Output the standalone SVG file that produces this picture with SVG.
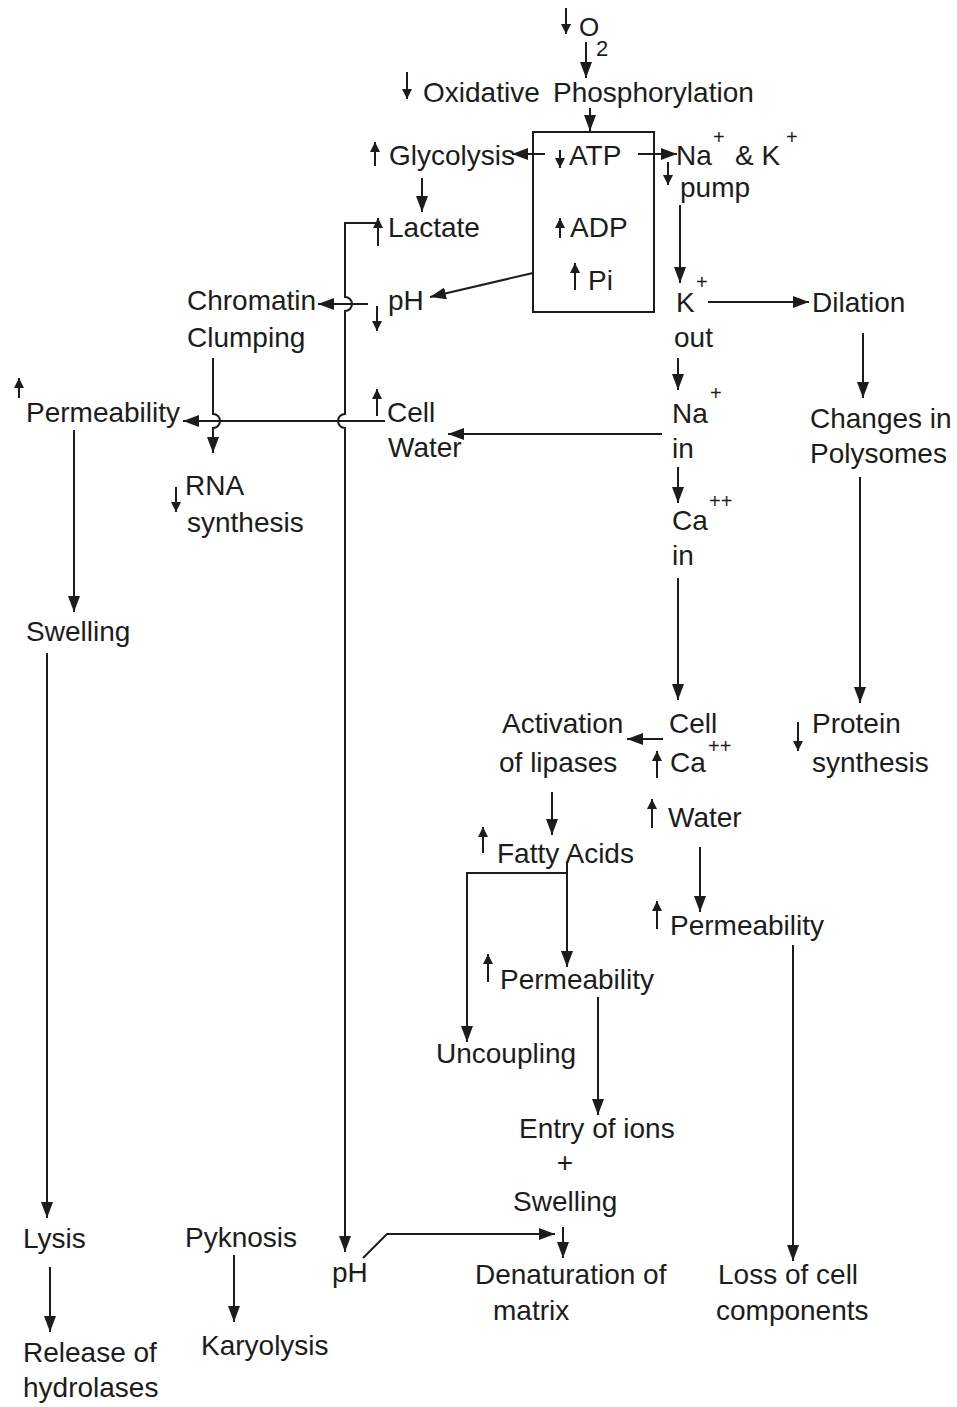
<svg xmlns="http://www.w3.org/2000/svg" width="957" height="1407" viewBox="0 0 957 1407">
<style>
text{font-family:"Liberation Sans","DejaVu Sans",sans-serif;font-size:28px;fill:#1c1c1c}
.sup{font-size:20px}
.c{fill:none;stroke:#1c1c1c;stroke-width:2}
.i{fill:none;stroke:#1c1c1c;stroke-width:2}
</style>
<defs>
<marker id="ah" markerUnits="userSpaceOnUse" markerWidth="16" markerHeight="12" refX="16" refY="6" orient="auto"><path d="M0,0 L16,6 L0,12 z" fill="#1c1c1c"/></marker>
<marker id="sa" markerUnits="userSpaceOnUse" markerWidth="10" markerHeight="10" refX="10" refY="5" orient="auto"><path d="M0,0 L10,5 L0,10 z" fill="#1c1c1c"/></marker>
</defs>
<rect width="957" height="1407" fill="#fff"/>

<g id="connectors">
<line class="c" x1="586" y1="42" x2="586" y2="78" marker-end="url(#ah)"/>
<line class="c" x1="590" y1="108" x2="590" y2="131" marker-end="url(#ah)"/>
<line class="c" x1="545" y1="154" x2="512" y2="154" marker-end="url(#ah)"/>
<line class="c" x1="638" y1="154" x2="677" y2="154" marker-end="url(#ah)"/>
<line class="c" x1="422" y1="178" x2="422" y2="212" marker-end="url(#ah)"/>
<line class="c" x1="680" y1="205" x2="680" y2="283" marker-end="url(#ah)"/>
<line class="c" x1="533" y1="273" x2="430" y2="297" marker-end="url(#ah)"/>
<line class="c" x1="368" y1="304" x2="318" y2="304" marker-end="url(#ah)"/>
<path class="c" d="M378,223 H345 V297 a7,7 0 0 1 0,14 V414 a7,7 0 0 0 0,14 V1252" marker-end="url(#ah)"/>
<line class="c" x1="708" y1="302" x2="809" y2="302" marker-end="url(#ah)"/>
<line class="c" x1="678" y1="358" x2="678" y2="390" marker-end="url(#ah)"/>
<line class="c" x1="662" y1="434" x2="448" y2="434" marker-end="url(#ah)"/>
<line class="c" x1="385" y1="421" x2="183" y2="421" marker-end="url(#ah)"/>
<path class="c" d="M213,358 V414 a7,7 0 0 1 0,14 V453" marker-end="url(#ah)"/>
<line class="c" x1="863" y1="333" x2="863" y2="398" marker-end="url(#ah)"/>
<line class="c" x1="678" y1="467" x2="678" y2="503" marker-end="url(#ah)"/>
<line class="c" x1="678" y1="578" x2="678" y2="700" marker-end="url(#ah)"/>
<line class="c" x1="860" y1="477" x2="860" y2="703" marker-end="url(#ah)"/>
<line class="c" x1="74" y1="430" x2="74" y2="612" marker-end="url(#ah)"/>
<line class="c" x1="47" y1="653" x2="47" y2="1218" marker-end="url(#ah)"/>
<line class="c" x1="663" y1="739" x2="627" y2="739" marker-end="url(#ah)"/>
<line class="c" x1="552" y1="792" x2="552" y2="835" marker-end="url(#ah)"/>
<path class="c" d="M567,863 V967" marker-end="url(#ah)"/>
<path class="c" d="M567,873 H467 V1042" marker-end="url(#ah)"/>
<line class="c" x1="700" y1="847" x2="700" y2="912" marker-end="url(#ah)"/>
<line class="c" x1="598" y1="997" x2="598" y2="1115" marker-end="url(#ah)"/>
<line class="c" x1="793" y1="945" x2="793" y2="1261" marker-end="url(#ah)"/>
<line class="c" x1="50" y1="1267" x2="50" y2="1332" marker-end="url(#ah)"/>
<line class="c" x1="234" y1="1255" x2="234" y2="1322" marker-end="url(#ah)"/>
<path class="c" d="M363,1258 L387,1234 H555" marker-end="url(#ah)"/>
<line class="c" x1="563" y1="1227" x2="563" y2="1258" marker-end="url(#ah)"/>
</g>

<g id="n-o2">
<line class="i" x1="566" y1="8" x2="566" y2="34" marker-end="url(#sa)"/>
<text x="579" y="36" style="font-size:26px">O</text><text x="596" y="56" style="font-size:22px">2</text>
</g>
<g id="n-oxphos">
<line class="i" x1="407" y1="72" x2="407" y2="99" marker-end="url(#sa)"/>
<text x="423" y="102">Oxidative<tspan x="553">Phosphorylation</tspan></text>
</g>
<g id="n-box">
<rect x="533" y="132" width="121" height="180" fill="none" stroke="#1c1c1c" stroke-width="2"/>
<line class="i" x1="560" y1="150" x2="560" y2="168" marker-end="url(#sa)"/>
<text x="569" y="165">ATP</text>
<line class="i" x1="560" y1="238" x2="560" y2="218" marker-end="url(#sa)"/>
<text x="570" y="237">ADP</text>
<line class="i" x1="575" y1="290" x2="575" y2="263" marker-end="url(#sa)"/>
<text x="588" y="290">Pi</text>
</g>
<g id="n-glycolysis">
<line class="i" x1="375" y1="166" x2="375" y2="142" marker-end="url(#sa)"/>
<text x="389" y="165">Glycolysis</text>
</g>
<g id="n-pump">
<text x="676" y="165">Na<tspan class="sup" x="713" y="144">+</tspan><tspan x="735" y="165">&amp; K</tspan><tspan class="sup" x="786" y="144">+</tspan></text>
<line class="i" x1="668" y1="162" x2="668" y2="185" marker-end="url(#sa)"/>
<text x="680" y="197">pump</text>
</g>
<g id="n-lactate">
<line class="i" x1="378" y1="246" x2="378" y2="218" marker-end="url(#sa)"/>
<text x="388" y="237">Lactate</text>
</g>
<g id="n-ph1">
<text x="388" y="310">pH</text>
<line class="i" x1="377" y1="306" x2="377" y2="331" marker-end="url(#sa)"/>
</g>
<g id="n-chromatin">
<text x="187" y="310">Chromatin</text>
<text x="187" y="347">Clumping</text>
</g>
<g id="n-kout">
<text x="676" y="312">K<tspan class="sup" x="696" y="289">+</tspan></text>
<text x="674" y="347">out</text>
</g>
<g id="n-dilation"><text x="812" y="312">Dilation</text></g>
<g id="n-perm1">
<line class="i" x1="19" y1="398" x2="19" y2="378" marker-end="url(#sa)"/>
<text x="26" y="422">Permeability</text>
</g>
<g id="n-cellwater">
<line class="i" x1="377" y1="416" x2="377" y2="389" marker-end="url(#sa)"/>
<text x="387" y="422">Cell</text>
<text x="388" y="457">Water</text>
</g>
<g id="n-nain">
<text x="672" y="423">Na<tspan class="sup" x="710" y="400">+</tspan></text>
<text x="672" y="458">in</text>
</g>
<g id="n-polysomes">
<text x="810" y="428">Changes in</text>
<text x="810" y="463">Polysomes</text>
</g>
<g id="n-rna">
<line class="i" x1="176" y1="487" x2="176" y2="512" marker-end="url(#sa)"/>
<text x="185" y="495">RNA</text>
<text x="187" y="532">synthesis</text>
</g>
<g id="n-cain">
<text x="672" y="530">Ca<tspan class="sup" x="709" y="508">++</tspan></text>
<text x="672" y="565">in</text>
</g>
<g id="n-swelling1"><text x="26" y="641">Swelling</text></g>
<g id="n-lipases">
<text x="502" y="733">Activation</text>
<text x="499" y="772">of lipases</text>
</g>
<g id="n-cellca">
<text x="669" y="733">Cell</text>
<line class="i" x1="657" y1="778" x2="657" y2="751" marker-end="url(#sa)"/>
<text x="670" y="772">Ca<tspan class="sup" x="708" y="753">++</tspan></text>
</g>
<g id="n-protein">
<line class="i" x1="798" y1="722" x2="798" y2="751" marker-end="url(#sa)"/>
<text x="812" y="733">Protein</text>
<text x="812" y="772">synthesis</text>
</g>
<g id="n-water">
<line class="i" x1="652" y1="828" x2="652" y2="799" marker-end="url(#sa)"/>
<text x="668" y="827">Water</text>
</g>
<g id="n-fatty">
<line class="i" x1="483" y1="853" x2="483" y2="827" marker-end="url(#sa)"/>
<text x="497" y="863">Fatty Acids</text>
</g>
<g id="n-perm3">
<line class="i" x1="657" y1="929" x2="657" y2="901" marker-end="url(#sa)"/>
<text x="670" y="935">Permeability</text>
</g>
<g id="n-perm2">
<line class="i" x1="488" y1="982" x2="488" y2="954" marker-end="url(#sa)"/>
<text x="500" y="989">Permeability</text>
</g>
<g id="n-uncoupling"><text x="436" y="1063">Uncoupling</text></g>
<g id="n-entry">
<text x="519" y="1138">Entry of ions</text>
<text x="565" y="1172" text-anchor="middle">+</text>
<text x="513" y="1211">Swelling</text>
</g>
<g id="n-lysis"><text x="23" y="1248">Lysis</text></g>
<g id="n-release">
<text x="23" y="1362">Release of</text>
<text x="23" y="1397">hydrolases</text>
</g>
<g id="n-pyknosis"><text x="185" y="1247">Pyknosis</text></g>
<g id="n-karyolysis"><text x="201" y="1355">Karyolysis</text></g>
<g id="n-ph2"><text x="332" y="1282">pH</text></g>
<g id="n-denat">
<text x="475" y="1284">Denaturation of</text>
<text x="493" y="1320">matrix</text>
</g>
<g id="n-loss">
<text x="718" y="1284">Loss of cell</text>
<text x="716" y="1320">components</text>
</g>
</svg>
